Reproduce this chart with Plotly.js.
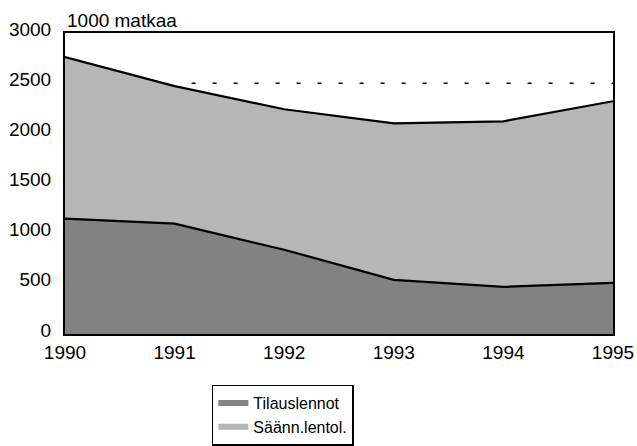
<!DOCTYPE html>
<html>
<head>
<meta charset="utf-8">
<script src="https://cdn.plot.ly/plotly-3.0.1.min.js"></script>
<style>html,body{margin:0;padding:0;background:#fff;}#chart{width:637px;height:446px;}</style>
</head>
<body>
<div id="chart"></div>
<script>
// Data
const years = [1990, 1991, 1992, 1993, 1994, 1995];
const tilauslennot = [1150, 1100, 840, 540, 470, 510];
const saannLentol = [1610, 1370, 1400, 1560, 1650, 1810];
const targetYears = [1991, 1995];
const targetValues = [2500, 2500];
const yTicks = [0, 500, 1000, 1500, 2000, 2500, 3000];
const xTicks = [1990, 1991, 1992, 1993, 1994, 1995];
const seriesNames = ['Tilauslennot', 'Säänn.lentol.'];
const yUnit = '1000 matkaa';

const font = 'Liberation Sans, Arial, sans-serif';
const totals = years.map((_, i) => tilauslennot[i] + saannLentol[i]);

const traces = [
  {
    x: years, y: tilauslennot, name: seriesNames[0],
    type: 'scatter', mode: 'none', stackgroup: 'one',
    fillcolor: '#828282'
  },
  {
    x: years, y: saannLentol, name: seriesNames[1],
    type: 'scatter', mode: 'none', stackgroup: 'one',
    fillcolor: '#b6b6b6'
  },
  {
    x: years, y: tilauslennot, type: 'scatter', mode: 'lines',
    showlegend: false, hoverinfo: 'skip',
    line: {color: '#000', width: 2.2}
  },
  {
    x: years, y: totals, type: 'scatter', mode: 'lines',
    showlegend: false, hoverinfo: 'skip',
    line: {color: '#000', width: 2.2}
  },
  {
    x: targetYears, y: targetValues, type: 'scatter', mode: 'lines',
    showlegend: false, hoverinfo: 'skip',
    line: {color: '#000', width: 1.5, dash: '0px,17px,4px,0px'}
  }
];

const layout = {
  width: 637, height: 446,
  margin: {l: 65, r: 24, t: 33, b: 112, autoexpand: false},
  paper_bgcolor: '#fff', plot_bgcolor: '#fff',
  font: {family: font, color: '#000', size: 19},
  showlegend: true,
  legend: {
    x: 0.268, xanchor: 'left', y: -0.168, yanchor: 'top',
    orientation: 'v', traceorder: 'normal',
    bordercolor: '#000', borderwidth: 1.5, bgcolor: '#fff',
    font: {family: font, size: 16, color: '#000'},
    entrywidth: 210, entrywidthmode: 'pixels',
    itemwidth: 30, tracegroupgap: 0
  },
  xaxis: {
    range: [1990, 1995], tickvals: xTicks, ticktext: xTicks.map(String),
    showgrid: false, zeroline: false, showline: true, mirror: true,
    linecolor: '#000', linewidth: 2, ticks: '',
    tickfont: {family: font, size: 19, color: '#000'}
  },
  yaxis: {
    range: [0, 3000], tickvals: yTicks, ticktext: yTicks.map(String),
    showgrid: false, zeroline: false, showline: true, mirror: true,
    linecolor: '#000', linewidth: 2, ticks: '',
    ticklabelshift: -4, ticklabelstandoff: 8,
    tickfont: {family: font, size: 19, color: '#000'}
  },
  annotations: [{
    text: yUnit, xref: 'paper', yref: 'paper', x: 0, y: 1,
    xanchor: 'left', yanchor: 'bottom', yshift: 0, showarrow: false,
    font: {family: font, size: 19, color: '#000'}
  }]
};

Plotly.newPlot('chart', traces, layout, {displayModeBar: false, staticPlot: true});
</script>
</body>
</html>
